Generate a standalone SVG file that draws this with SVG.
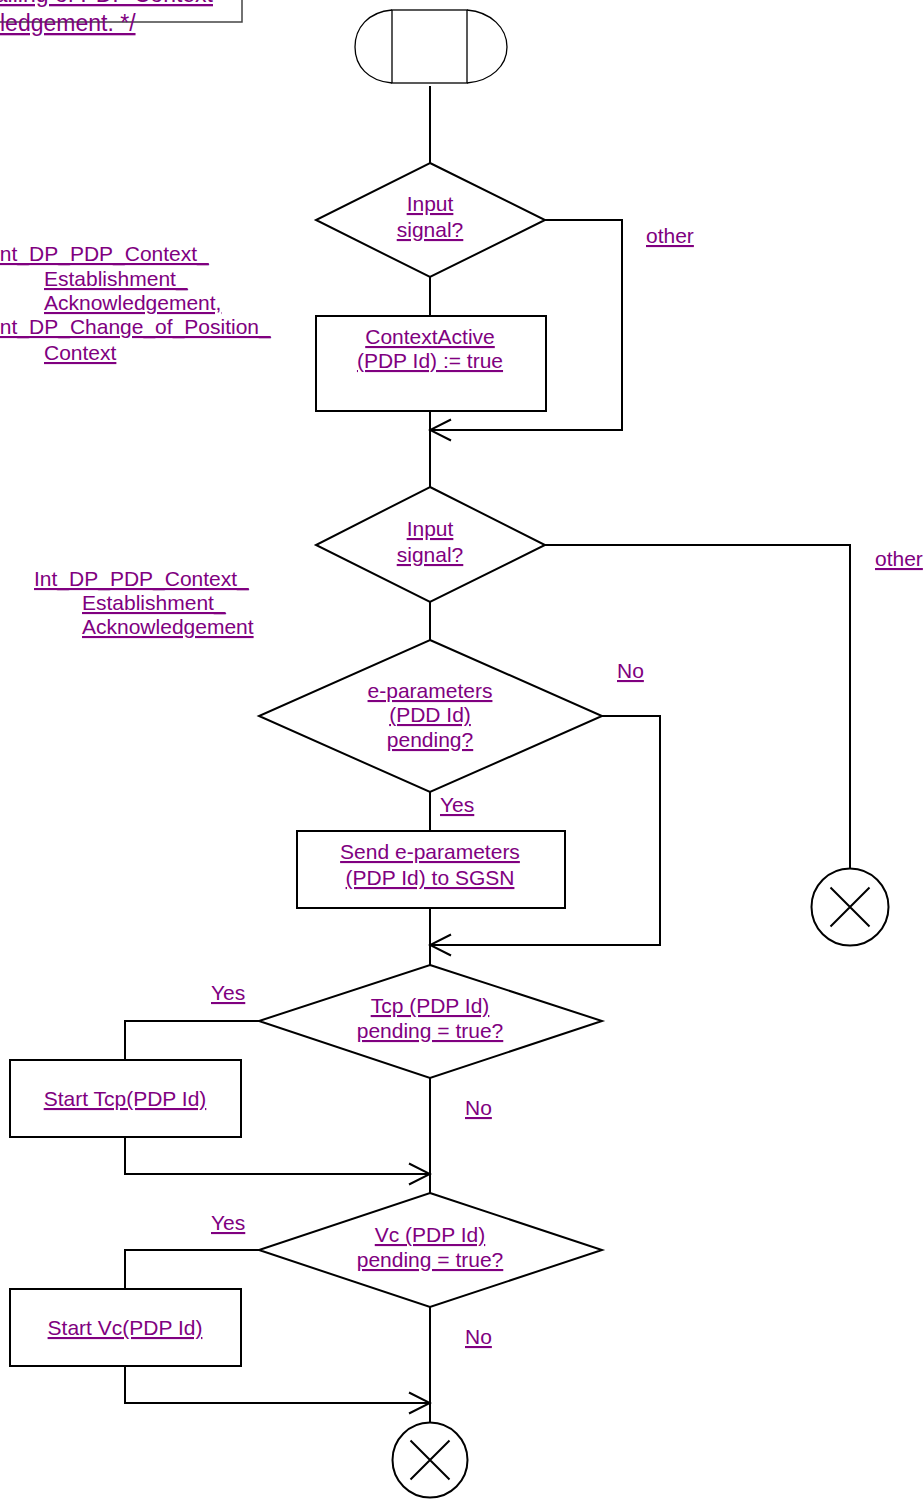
<svg xmlns="http://www.w3.org/2000/svg" width="924" height="1499" viewBox="0 0 924 1499">
  <style>
    .shape { fill: #ffffff; stroke: #000000; stroke-width: 2; }
    .thin { fill: none; stroke: #000000; stroke-width: 1.3; }
    .conn { fill: none; stroke: #000000; stroke-width: 2; }
    .lbl { font-family: "Liberation Sans", Arial, sans-serif; font-size: 21px; fill: #800080; text-decoration: underline; }
    .mid { text-anchor: middle; }
    .note { font-size: 23px; }
  </style>
  <defs>
    <marker id="open" viewBox="-23 -12 25 24" markerWidth="25" markerHeight="24" refX="0" refY="0" orient="auto" markerUnits="userSpaceOnUse">
      <path d="M-21,-10.5 L0,0 L-21,10.5" fill="none" stroke="#000000" stroke-width="2"/>
    </marker>
  </defs>

  <!-- comment box, mostly off the top-left edge -->
  <g id="comment">
    <path d="M-2,22 H242 V-2" fill="none" stroke="#444444" stroke-width="1.5"/>
    <text class="lbl note" x="213" y="2" text-anchor="end">Signalling of PDP Context</text>
    <text class="lbl note" x="0" y="31">ledgement. */</text>
  </g>

  <!-- start symbol -->
  <g id="start">
    <rect x="392" y="10" width="75" height="73" fill="#ffffff" stroke="#000000" stroke-width="1.3"/>
    <path class="thin" d="M392,10 C368,12 355,28 355,47 C355,66 368,81 392,83"/>
    <path class="thin" d="M467,10 C491,12 507,28 507,47 C507,66 491,81 467,83"/>
  </g>

  <!-- connectors -->
  <g id="connectors">
    <path class="conn" d="M430,86 V163"/>
    <path class="conn" d="M430,277 V316"/>
    <path class="conn" d="M545,220 H622 V430 H430" marker-end="url(#open)"/>
    <path class="conn" d="M430,411 V487"/>
    <path class="conn" d="M545,545 H850 V868"/>
    <path class="conn" d="M430,602 V640"/>
    <path class="conn" d="M430,792 V831"/>
    <path class="conn" d="M602,716 H660 V945 H430" marker-end="url(#open)"/>
    <path class="conn" d="M430,908 V965"/>
    <path class="conn" d="M259,1021 H125 V1060"/>
    <path class="conn" d="M125,1137 V1174 H430" marker-end="url(#open)"/>
    <path class="conn" d="M430,1078 V1193"/>
    <path class="conn" d="M259,1250 H125 V1289"/>
    <path class="conn" d="M125,1366 V1403 H430" marker-end="url(#open)"/>
    <path class="conn" d="M430,1307 V1422"/>
  </g>

  <!-- first input decision -->
  <g id="input1">
    <polygon class="shape" points="430,163 545,220 430,277 316,220"/>
    <text class="lbl mid" x="430" y="211">Input</text>
    <text class="lbl mid" x="430" y="237">signal?</text>
  </g>
  <g id="input1-labels">
    <text class="lbl" x="-6" y="261">Int_DP_PDP_Context_</text>
    <text class="lbl" x="44" y="286">Establishment_</text>
    <text class="lbl" x="44" y="310">Acknowledgement,</text>
    <text class="lbl" x="-6" y="334">Int_DP_Change_of_Position_</text>
    <text class="lbl" x="44" y="360">Context</text>
    <text class="lbl" x="646" y="243">other</text>
  </g>

  <!-- set context active -->
  <g id="setActive">
    <rect class="shape" x="316" y="316" width="230" height="95"/>
    <text class="lbl mid" x="430" y="344">ContextActive</text>
    <text class="lbl mid" x="430" y="368">(PDP Id) := true</text>
  </g>

  <!-- second input decision -->
  <g id="input2">
    <polygon class="shape" points="430,487 545,545 430,602 316,545"/>
    <text class="lbl mid" x="430" y="536">Input</text>
    <text class="lbl mid" x="430" y="562">signal?</text>
  </g>
  <g id="input2-labels">
    <text class="lbl" x="34" y="586">Int_DP_PDP_Context_</text>
    <text class="lbl" x="82" y="610">Establishment_</text>
    <text class="lbl" x="82" y="634">Acknowledgement</text>
    <text class="lbl" x="875" y="566">other</text>
  </g>

  <!-- other: stop -->
  <g id="stopOther">
    <circle class="shape" cx="850" cy="907" r="38.5"/>
    <path class="conn" d="M830.5,887.5 L869.5,926.5 M869.5,887.5 L830.5,926.5" stroke-width="1.5"/>
  </g>

  <!-- e-parameters pending decision -->
  <g id="eparamsPending">
    <polygon class="shape" points="430,640 602,716 430,792 259,716"/>
    <text class="lbl mid" x="430" y="698">e-parameters</text>
    <text class="lbl mid" x="430" y="722">(PDD Id)</text>
    <text class="lbl mid" x="430" y="747">pending?</text>
    <text class="lbl" x="617" y="678">No</text>
    <text class="lbl" x="440" y="812">Yes</text>
  </g>

  <!-- send e-parameters -->
  <g id="sendEparams">
    <rect class="shape" x="297" y="831" width="268" height="77"/>
    <text class="lbl mid" x="430" y="859">Send e-parameters</text>
    <text class="lbl mid" x="430" y="885">(PDP Id) to SGSN</text>
  </g>

  <!-- Tcp pending decision -->
  <g id="tcpPending">
    <polygon class="shape" points="430,965 602,1021 430,1078 259,1021"/>
    <text class="lbl mid" x="430" y="1013">Tcp (PDP Id)</text>
    <text class="lbl mid" x="430" y="1038">pending = true?</text>
    <text class="lbl" x="211" y="1000">Yes</text>
    <text class="lbl" x="465" y="1115">No</text>
  </g>

  <!-- start Tcp -->
  <g id="startTcp">
    <rect class="shape" x="10" y="1060" width="231" height="77"/>
    <text class="lbl mid" x="125" y="1106">Start Tcp(PDP Id)</text>
  </g>

  <!-- Vc pending decision -->
  <g id="vcPending">
    <polygon class="shape" points="430,1193 602,1250 430,1307 259,1250"/>
    <text class="lbl mid" x="430" y="1242">Vc (PDP Id)</text>
    <text class="lbl mid" x="430" y="1267">pending = true?</text>
    <text class="lbl" x="211" y="1230">Yes</text>
    <text class="lbl" x="465" y="1344">No</text>
  </g>

  <!-- start Vc -->
  <g id="startVc">
    <rect class="shape" x="10" y="1289" width="231" height="77"/>
    <text class="lbl mid" x="125" y="1335">Start Vc(PDP Id)</text>
  </g>

  <!-- final stop -->
  <g id="stopEnd">
    <circle class="shape" cx="430" cy="1460" r="37.5"/>
    <path class="conn" d="M410.5,1440.5 L449.5,1479.5 M449.5,1440.5 L410.5,1479.5" stroke-width="1.5"/>
  </g>
</svg>
